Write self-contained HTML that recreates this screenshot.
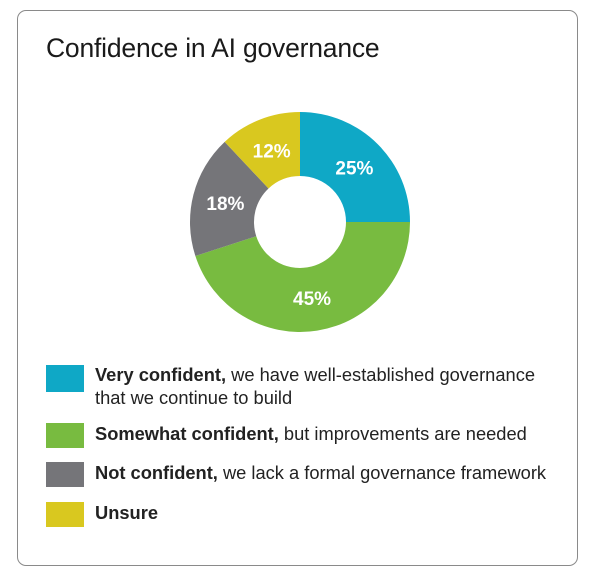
<!DOCTYPE html>
<html><head><meta charset="utf-8"><style>
body{margin:0;width:600px;height:584px;background:#fff;font-family:"Liberation Sans",sans-serif;position:relative;overflow:hidden}
.card{position:absolute;left:17px;top:10px;width:561px;height:556px;border:1.5px solid #8a8a8a;border-radius:9px;box-sizing:border-box}
.title{position:absolute;left:46px;top:33px;font-size:26.5px;color:#1a1a1a;letter-spacing:-0.2px}
.sw{position:absolute;left:46px;width:38px;height:25px}
.lt{position:absolute;left:95px;font-size:18.3px;color:#222;line-height:23px}
b{font-weight:bold}
</style></head><body>
<div class="card"></div>
<div class="title">Confidence in AI governance</div>
<svg id="chart" width="600" height="584" style="position:absolute;left:0;top:0"></svg>
<div class="sw" style="top:365px;height:27px;background:#0fa8c6"></div>
<div class="lt" style="top:363px"><b>Very confident,</b> we have well-established governance<br>that we continue to build</div>
<div class="sw" style="top:423px;background:#78bb40"></div>
<div class="lt" style="top:422px"><b>Somewhat confident,</b> but improvements are needed</div>
<div class="sw" style="top:462px;background:#757579"></div>
<div class="lt" style="top:461px"><b>Not confident,</b> we lack a formal governance framework</div>
<div class="sw" style="top:502px;background:#d9c81f"></div>
<div class="lt" style="top:501px"><b>Unsure</b></div>
<script>
const categories=["Very confident","Somewhat confident","Not confident","Unsure"];
const values=[25,45,18,12];
const labels=["25%","45%","18%","12%"];
const colors=["#0fa8c6","#78bb40","#757579","#d9c81f"];
const svg=document.getElementById('chart');
const NS="http://www.w3.org/2000/svg";
const cx=300,cy=222,R=110,r=46;
const total=values.reduce((a,b)=>a+b,0);
function pt(a,rad){return [cx+rad*Math.sin(a),cy-rad*Math.cos(a)];}
let a0=0;
values.forEach((v,i)=>{
  const a1=a0+v/total*2*Math.PI;
  const large=(a1-a0)>Math.PI?1:0;
  const [x0,y0]=pt(a0,R),[x1,y1]=pt(a1,R),[x2,y2]=pt(a1,r),[x3,y3]=pt(a0,r);
  const p=document.createElementNS(NS,'path');
  p.setAttribute('d',`M${x0},${y0}A${R},${R} 0 ${large} 1 ${x1},${y1}L${x2},${y2}A${r},${r} 0 ${large} 0 ${x3},${y3}Z`);
  p.setAttribute('fill',colors[i]);
  
  
  svg.appendChild(p);
  const am=(a0+a1)/2;
  const [tx,ty]=pt(am,77);
  const t=document.createElementNS(NS,'text');
  t.setAttribute('x',tx);t.setAttribute('y',ty+7);
  t.setAttribute('text-anchor','middle');
  t.setAttribute('fill','#fff');t.setAttribute('font-size','19');t.setAttribute('font-weight','bold');
  t.setAttribute('font-family','Liberation Sans, sans-serif');
  t.textContent=labels[i];
  
  
  svg.appendChild(t);
  a0=a1;
});
</script>
</body></html>
